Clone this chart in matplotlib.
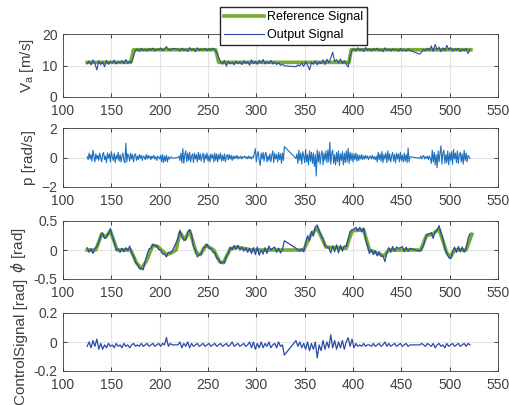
import numpy as np
from matplotlib import pyplot as plt

plt.rcParams['font.family'] = ['Liberation Sans', 'DejaVu Sans']

# logged samples come in 4 chunks (the log has small gaps between them)
seg_start = [125, 219, 341, 469]
seg_end = [213, 329, 459, 521]

# airspeed reference (step commands)
va_ref_t = [125, 170, 173, 258, 261, 396, 398, 522]
va_ref = [11, 11, 15, 15, 11, 11, 15, 15]

va_out = [
    [10.5, 11.4, 10.2, 11.8, 10.6, 8.6, 11.5, 10.3, 11.2, 9.6,
     11.6, 10.4, 11.3, 10.8, 11.7, 10.5, 11.2, 10.9, 11.5, 10.6,
     11.9, 10.7, 11.3, 11.0, 12.8, 14.8, 15.2, 14.5, 15.4, 14.7,
     15.1, 14.6, 15.3, 14.9, 15.5, 14.6, 15.2, 15.0, 15.6, 14.7,
     15.3, 16.0, 15.1, 14.8, 15.4],
    [15.2, 14.6, 15.5, 14.8, 15.1, 14.5, 15.7, 14.9, 15.3, 14.4,
     15.6, 14.8, 15.2, 15.0, 15.4, 14.7, 15.3, 14.9, 15.5, 15.0,
     14.2, 12.5, 11.2, 10.4, 11.6, 9.8, 11.3, 10.5, 11.0, 10.2,
     11.4, 10.6, 11.1, 10.3, 11.5, 10.7, 11.2, 10.1, 11.8, 10.6,
     11.3, 10.4, 11.6, 10.8, 11.9, 10.5, 11.2, 10.7, 11.6, 10.5,
     11.1, 10.3, 10.9, 10.1, 10.4, 9.9],
    [9.6, 10.2, 9.9, 10.8, 9.7, 11.2, 10.1, 8.6, 11.0, 10.4,
     11.5, 10.2, 11.1, 10.6, 11.8, 10.3, 12.0, 10.9, 12.4, 14.2,
     11.3, 11.9, 10.8, 12.1, 10.6, 11.5, 10.4, 9.5, 13.0, 14.8,
     15.3, 14.6, 15.6, 14.9, 15.2, 14.5, 15.7, 14.8, 15.3, 14.6,
     15.4, 14.9, 15.5, 14.7, 15.1, 14.4, 15.6, 14.8, 15.2, 14.6,
     15.3, 14.9, 15.1, 14.5, 15.4, 14.7, 15.0, 14.6, 15.2, 14.8],
    [13.6, 14.3, 15.1, 14.6, 15.5, 14.8, 16.2, 14.5, 16.7, 15.0,
     15.8, 14.4, 15.6, 14.7, 16.4, 15.1, 15.7, 14.6, 15.3, 14.9,
     15.5, 14.4, 15.2, 14.7, 15.4, 13.8, 15.0],
]

# roll rate is logged twice as dense as the rest
p_out = [
    [0.05, -0.15, 0.3, -0.1, 0.2, -0.25, 0.5, 0.1, -0.3, 0.25,
     -0.1, 0.15, -0.2, 0.3, 0.0,
     -0.3, 0.2, 0.35, -0.15, 0.1, -0.35, 0.3, -0.05, 0.25, -0.3,
     0.4, 0.05, -0.2, 0.3, -0.35, 0.15, -0.1, 0.35, -0.25, 0.2,
     -0.3, 0.1, 0.3, -0.2, -0.35,
     0.97,
     -0.3, 0.25, 0.1, -0.25, 0.3, -0.1, 0.2, -0.3, 0.15, 0.25,
     -0.2, 0.1, -0.15, 0.2, -0.05, 0.15, -0.2, 0.1, 0.05, -0.15,
     0.2, -0.1, 0.15, -0.05, 0.1,
     -0.15, 0.1, -0.05, 0.15, -0.1, 0.05, -0.2, 0.1, 0.0, -0.1,
     0.15, -0.3, 0.2, -0.35, 0.1, -0.25, 0.15, -0.3, 0.05, -0.1,
     0.0, 0.05, -0.05],
    [0.0, 0.1, -0.2, 0.3, -0.35, 0.6, -0.4, 0.2, 0.45, -0.3,
     0.3, -0.2, 0.35, -0.3, 0.1, 0.25, -0.35, 0.3, -0.1, 0.2,
     -0.3, 0.35, -0.15, 0.25, -0.25, 0.1, 0.3, -0.35, 0.2, -0.1,
     0.3, -0.25, 0.15, -0.3, 0.25, -0.05, 0.2, -0.3, 0.3, -0.2,
     0.25, -0.3, 0.2, -0.1, 0.3, -0.25, 0.15, -0.2, 0.25, -0.3,
     0.1, 0.2, -0.15, 0.2, -0.1, 0.15, -0.2, 0.1,
     -0.1, 0.1, -0.05, 0.15, -0.1, 0.05, -0.05, 0.1, -0.1, 0.05,
     0.0, 0.1, -0.05, 0.05, -0.1, 0.1, -0.05, 0.05, -0.1, 0.05,
     0.0,
     0.3, 0.6, -0.3, 0.2, 0.4, -0.2, -0.55, 0.3, -0.1, 0.35,
     -0.25, 0.2, 0.35, -0.3, 0.1, -0.2, 0.25, -0.3, 0.15, 0.45,
     -0.35, 0.3, -0.1, 0.2, -0.3, 0.35, -0.15, 0.25, -0.4, 0.3,
     -0.2, 0.74],
    [-0.06, 0.25, -0.4, 0.5, -0.2, 0.3, -0.45, 0.4, 0.1, -0.35,
     0.55, -0.3, 0.2, -0.5, 0.45, -0.25, 0.35, -0.4, 0.3, -0.6,
     0.2, -1.25,
     0.5, -0.3, 0.4, -0.45, 0.2, 0.45, -0.5, 0.3, -0.2, 0.45,
     -0.35, 0.5, -0.3, 1.04,
     -0.45, 0.3, 0.5, -0.4, 0.2, -0.5, 0.35, -0.3, 0.45, -0.55,
     0.25, -0.2, 0.4, -0.5, 0.3, -0.35, 0.45, -0.3, 0.62,
     -0.4, 0.35, -0.2, 0.3, -0.3, 0.25, -0.15, 0.3, -0.25, 0.2,
     -0.2, 0.15, -0.1, 0.2,
     -0.15, 0.1, -0.1, 0.15, -0.05, 0.1, -0.15, 0.05, 0.1, -0.1,
     0.15, -0.1, 0.05, -0.15, 0.1,
     -0.3, 0.35, -0.15, 0.25, -0.25, 0.4, -0.35, 0.2, -0.1, 0.3,
     -0.35, 0.45, -0.2, 0.25, -0.3, 0.1, 0.35, -0.25, 0.2, -0.35,
     0.3, -0.1, 0.25, -0.3, 0.35, -0.2, 0.15, -0.3, 0.3, -0.25,
     0.2, -0.35, 0.65, -0.3, 0.05],
    [-0.05, 0.1, -0.1, 0.05, 0.15, -0.1, 0.05, -0.05, 0.1, -0.15,
     0.1, -0.05,
     -0.4, 0.5, -0.3, 0.35, -0.5, 0.2, -0.7, 0.45, -0.3, 0.3,
     0.8,
     -0.45, 0.3, 0.5, -0.4, 0.2, -0.35, 0.45, -0.5, 0.3, -0.2,
     0.4, -0.45, 0.55, -0.1, 0.3, -0.35, 0.45, -0.4, 0.2, 0.35,
     -0.3, 0.25, -0.45, 0.5, -0.2, 0.3, -0.3, 0.15, 0.05, -0.05],
]

# roll reference (commanded phi)
phi_ref_t = [125, 134, 140, 144, 149, 156, 170, 176, 181, 186, 193, 198,
             207, 212, 217, 221, 226, 231, 238, 242, 248, 256, 262, 266,
             273, 280, 295, 330, 349, 356, 363, 372, 393, 399, 411, 417,
             432, 437, 470, 476, 482, 489, 497, 501, 505, 517, 523]
phi_ref = [0.0, 0.0, 0.28, 0.22, 0.33, 0.0, 0.0, -0.22, -0.32, -0.2, 0.08, 0.06,
           -0.08, -0.05, 0.0, 0.3, 0.18, 0.33, -0.05, -0.08, 0.08, 0.0, -0.2, -0.22,
           0.02, 0.05, 0.0, 0.0, 0.0, 0.25, 0.38, 0.05, 0.03, 0.33, 0.35, 0.0,
           -0.1, 0.0, 0.0, 0.25, 0.27, 0.36, -0.05, -0.12, 0.0, 0.0, 0.27]

phi_out = [
    [0.04, -0.04, 0.02, -0.06, 0.03, 0.06, 0.13, 0.24, 0.29, 0.2,
     0.23, 0.28, 0.37, 0.23, 0.14, 0.0, 0.02, -0.04, 0.03, -0.03,
     0.04, -0.01, 0.07, -0.05, -0.1, -0.21, -0.25, -0.32, -0.31, -0.34,
     -0.19, -0.08, 0.02, 0.03, 0.1, 0.07, 0.08, 0.01, 0.0, -0.07,
     -0.07, -0.12, -0.04, -0.05, -0.02],
    [0.2, 0.34, 0.23, 0.17, 0.18, 0.31, 0.35, 0.27, 0.06, 0.0,
     -0.12, -0.08, -0.07, 0.04, 0.05, 0.1, 0.03, 0.03, -0.04, -0.04,
     -0.14, -0.16, -0.23, -0.21, -0.22, -0.1, -0.06, 0.05, 0.0, 0.08,
     0.01, 0.08, 0.0, 0.05, -0.02, 0.04, -0.04, 0.03, -0.06, 0.04,
     -0.08, 0.05, -0.09, 0.0, -0.07, 0.04, -0.06, 0.07, 0.0, 0.03,
     0.05, -0.04, 0.03, -0.05, 0.01, 0.16],
    [0.03, 0.0, -0.02, 0.02, -0.03, 0.14, 0.24, 0.16, 0.32, 0.24,
     0.4, 0.43, 0.33, 0.25, 0.2, 0.08, 0.05, 0.04, -0.05, 0.07,
     -0.03, 0.09, -0.05, 0.08, -0.02, 0.07, 0.06, 0.19, 0.32, 0.34,
     0.36, 0.39, 0.33, 0.39, 0.31, 0.38, 0.18, 0.08, -0.06, 0.01,
     -0.08, -0.01, -0.1, -0.03, -0.11, -0.1, -0.2, -0.05, 0.04, -0.04,
     0.06, -0.02, 0.05, 0.03, 0.04, 0.06, -0.03, 0.05, -0.02, 0.03],
    [-0.02, 0.01, 0.08, 0.2, 0.27, 0.28, 0.3, 0.2, 0.32, 0.34,
     0.42, 0.29, 0.2, 0.03, -0.05, -0.13, -0.15, -0.03, 0.05, -0.04,
     0.06, -0.03, 0.05, -0.04, 0.03, 0.2, 0.28],
]

ctrl_out = [
    [-0.03, 0.0, -0.04, 0.01, -0.03, 0.02, -0.05, -0.01, -0.05, -0.02,
     -0.04, -0.01, -0.03, -0.02, -0.04, -0.01, -0.03, -0.02, -0.04, -0.01,
     -0.03, -0.02, -0.04, -0.02, -0.01, -0.03, -0.02, -0.03, -0.01, -0.03,
     -0.02, -0.01, -0.03, -0.02, -0.01, -0.03, -0.02, -0.01, -0.03, -0.01,
     -0.02, 0.03, -0.03, -0.01, -0.02],
    [-0.02, 0.0, -0.04, -0.01, -0.03, 0.0, -0.04, -0.01, -0.03, -0.02,
     -0.01, -0.03, -0.02, -0.01, -0.03, -0.02, -0.01, -0.03, -0.02, -0.01,
     -0.03, -0.02, -0.01, -0.03, -0.02, -0.01, -0.03, -0.02, 0.0, -0.03,
     -0.02, -0.01, -0.03, -0.02, -0.01, -0.03, -0.02, 0.0, -0.04, 0.0,
     -0.05, -0.01, -0.04, 0.0, -0.04, -0.01, -0.03, 0.0, -0.04, -0.02,
     -0.01, -0.04, 0.0, -0.03, -0.02, -0.09],
    [0.01, -0.03, 0.0, -0.04, -0.01, -0.05, 0.0, -0.06, -0.01, -0.05,
     0.0, -0.11, -0.02, -0.06, 0.01, -0.05, 0.0, -0.04, 0.05, -0.04,
     0.01, -0.05, 0.0, -0.04, 0.01, -0.05, 0.0, 0.03, -0.03, 0.02,
     -0.04, -0.01, -0.03, -0.02, -0.03, -0.01, -0.03, -0.02, -0.02, -0.03,
     -0.01, -0.03, -0.02, -0.01, -0.03, -0.02, 0.0, -0.03, -0.01, -0.03,
     -0.02, -0.01, -0.03, -0.02, -0.01, -0.03, -0.02, -0.01, -0.03, -0.02],
    [-0.02, -0.01, -0.02, -0.03, -0.01, -0.02, -0.03, -0.01, -0.04, -0.02,
     -0.01, -0.03, -0.02, -0.04, -0.01, -0.03, -0.02, -0.01, -0.03, -0.02,
     -0.01, -0.03, -0.02, -0.01, -0.03, -0.01, -0.02],
]


def join(chunks):
    t = np.concatenate([np.linspace(a, b, len(c)) for a, b, c in zip(seg_start, seg_end, chunks)])
    return t, np.concatenate(chunks)


green = '#77AC30'
dblue = '#2b4aa8'
mblue = '#1f72bd'
txt = '#262626'

fig = plt.figure(figsize=(5.1, 4.05), dpi=100)

L, R = 63 / 510, 498 / 510
boxes = [(34, 97), (128, 187), (221, 279), (313, 371)]
axs = []
for top, bot in boxes:
    axs.append(fig.add_axes([L, 1 - bot / 405, R - L, (bot - top) / 405]))

t, va = join(va_out)
ln_ref, = axs[0].plot(va_ref_t, va_ref, color=green, lw=2.6)
ln_out, = axs[0].plot(t, va, color=dblue, lw=0.8)
axs[0].set_ylim(0, 20)
axs[0].set_yticks([0, 10, 20])
axs[0].set_ylabel('V$_{\\mathregular{a}}$ [m/s]')

t, p = join(p_out)
axs[1].plot(t, p, color=mblue, lw=0.8)
axs[1].set_ylim(-2, 2)
axs[1].set_yticks([-2, 0, 2])
axs[1].set_ylabel('p [rad/s]')

t, phi = join(phi_out)
axs[2].plot(phi_ref_t, phi_ref, color=green, lw=2.6)
axs[2].plot(t, phi, color=dblue, lw=0.9)
axs[2].set_ylim(-0.5, 0.5)
axs[2].set_yticks([-0.5, 0, 0.5])
axs[2].set_yticklabels(['-0.5', '0', '0.5'])
axs[2].set_ylabel('$\\phi$ [rad]')

t, u = join(ctrl_out)
axs[3].plot(t, u, color=dblue, lw=0.9)
axs[3].set_ylim(-0.2, 0.2)
axs[3].set_yticks([-0.2, 0, 0.2])
axs[3].set_yticklabels(['-0.2', '0', '0.2'])
axs[3].set_ylabel('ControlSignal [rad]')

for ax in axs:
    ax.set_xlim(100, 550)
    ax.set_xticks(np.arange(100, 551, 50))
    ax.grid(True, color='#e3e3e3', lw=0.8)
    ax.set_axisbelow(True)
    ax.tick_params(direction='in', top=True, right=True, length=3, width=0.6,
                   labelsize=10, colors=txt, labelcolor='#404040', pad=4)
    ax.tick_params(axis='x', pad=5)
    ax.yaxis.label.set_color('#404040')
    ax.yaxis.label.set_size(11)
    for s in ax.spines.values():
        s.set_color('#404040')
        s.set_linewidth(0.6)

fig.legend([ln_ref, ln_out], ['Reference Signal', 'Output Signal'],
           loc='upper left', bbox_to_anchor=(220 / 510, 1 - 7 / 405),
           fontsize=9, handlelength=3.2, fancybox=False, framealpha=1,
           edgecolor=txt, borderaxespad=0, borderpad=0.35, labelspacing=0.45,
           handletextpad=0.2)

fig.savefig('out.png', dpi=100)
